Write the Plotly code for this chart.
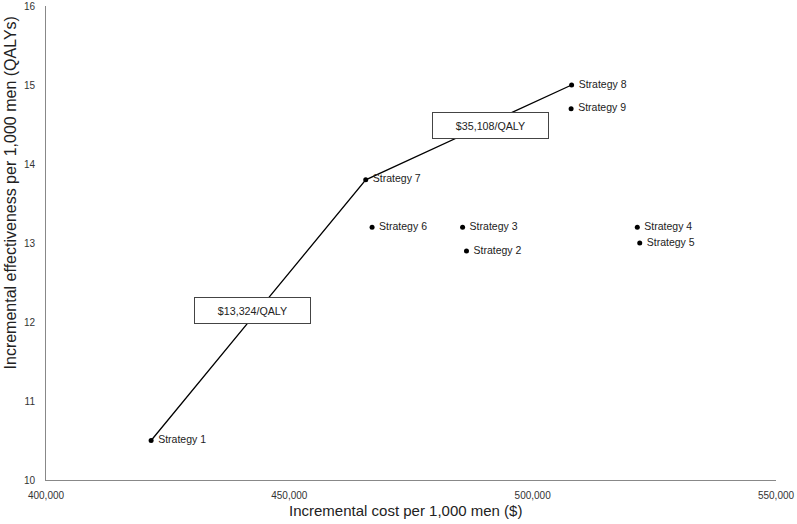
import plotly.graph_objects as go

# Strategy results: incremental cost ($) and effectiveness (QALYs) per 1,000 men
strategies = ['Strategy 1', 'Strategy 2', 'Strategy 3', 'Strategy 4', 'Strategy 5',
              'Strategy 6', 'Strategy 7', 'Strategy 8', 'Strategy 9']
cost = [421600, 486400, 485600, 521500, 522000, 467000, 465700, 508000, 507900]
effect = [10.5, 12.9, 13.2, 13.2, 13.0, 13.2, 13.8, 15.0, 14.7]

# Efficiency frontier
frontier = ['Strategy 1', 'Strategy 7', 'Strategy 8']
icer_labels = ['$13,324/QALY', '$35,108/QALY']
icer_x = [442400, 491400]
icer_y = [12.14, 14.49]

x_title = 'Incremental cost per 1,000 men ($)'
y_title = 'Incremental effectiveness per 1,000 men (QALYs)'

fx = [cost[strategies.index(s)] for s in frontier]
fy = [effect[strategies.index(s)] for s in frontier]

FONT = 'Liberation Sans, Arial'

fig = go.Figure()

fig.add_trace(go.Scatter(
    x=fx, y=fy, mode='lines',
    line=dict(color='black', width=1.3),
    hoverinfo='skip',
))

fig.add_trace(go.Scatter(
    x=cost, y=effect, mode='markers+text',
    marker=dict(color='black', size=5),
    text=[' ' + s for s in strategies], textposition='middle right',
    textfont=dict(family=FONT, size=10.5, color='#222'),
))

for lbl, x, y in zip(icer_labels, icer_x, icer_y):
    fig.add_annotation(
        x=x, y=y, text=lbl, showarrow=False,
        width=115, height=25, borderpad=0,
        bgcolor='white', bordercolor='#444', borderwidth=1,
        font=dict(family=FONT, size=10.7, color='#222'),
    )

# axis titles as free annotations (the y title sits above the axis middle)
fig.add_annotation(
    text=x_title, xref='paper', yref='paper', x=0.493, y=-0.065,
    xanchor='center', yanchor='middle', showarrow=False,
    font=dict(family=FONT, size=15, color='#222'),
)
fig.add_annotation(
    text=y_title, xref='paper', yref='paper', x=-0.049, y=0.605,
    xanchor='center', yanchor='middle', showarrow=False, textangle=-90,
    font=dict(family=FONT, size=16, color='#222'),
)

fig.update_xaxes(
    range=[400000, 550000], tickvals=[400000, 450000, 500000, 550000],
    tickformat=',', showgrid=False, zeroline=False, automargin=False,
    ticklabeloverflow='allow',
    showline=True, linecolor='#888', linewidth=1,
    ticks='outside', ticklen=6, tickcolor='rgba(0,0,0,0)',
    tickfont=dict(family=FONT, size=10, color='#333'),
)
fig.update_yaxes(
    range=[10, 16], dtick=1, showgrid=False, zeroline=False, automargin=False,
    ticklabeloverflow='allow',
    showline=True, linecolor='#888', linewidth=1,
    ticks='outside', ticklen=8, tickcolor='rgba(0,0,0,0)',
    tickfont=dict(family=FONT, size=10, color='#333'),
)

fig.update_layout(
    width=797, height=524,
    margin=dict(l=46, r=21, t=6, b=44),
    plot_bgcolor='white', paper_bgcolor='white',
    showlegend=False,
)

# drop the default 8px body margin so the figure fills the window
fig.write_html("out.html", config={'displayModeBar': False},
               post_script="document.body.style.margin='0';")
